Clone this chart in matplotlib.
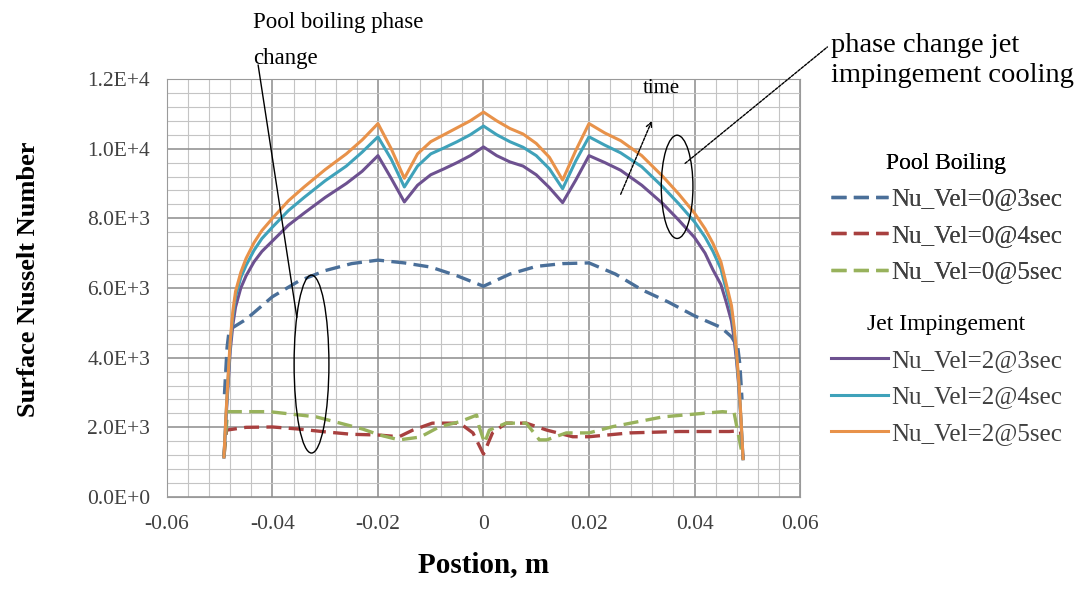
import matplotlib
matplotlib.use("Agg")
import matplotlib.pyplot as plt
from matplotlib.patches import Ellipse
from matplotlib.ticker import FuncFormatter, MultipleLocator

plt.rcParams['font.family'] = ['Liberation Serif', 'DejaVu Serif']

# position along the surface, m (jet impingement runs)
x_jet = [-0.0492, -0.0488, -0.0484, -0.048, -0.0475, -0.047, -0.046, -0.045, -0.0435,
         -0.042, -0.04, -0.037, -0.034, -0.03, -0.026, -0.023, -0.02, -0.0175, -0.015,
         -0.0125, -0.01, -0.0075, -0.005, -0.0025, 0.0, 0.0025, 0.005, 0.0075, 0.01,
         0.0125, 0.015, 0.0175, 0.02, 0.023, 0.026, 0.03, 0.034, 0.037, 0.04, 0.042,
         0.0435, 0.045, 0.046, 0.047, 0.0475, 0.048, 0.0484, 0.0488, 0.0492]

nu_jet_3s = [1150, 2250, 3250, 4200, 4950, 5450, 6000, 6350, 6750,
             7050, 7350, 7800, 8150, 8600, 9000, 9350, 9800, 9150, 8470,
             8950, 9250, 9420, 9600, 9800, 10050, 9800, 9620, 9500, 9250,
             8880, 8450, 9100, 9800, 9600, 9380, 8950, 8420, 7950, 7450, 7000,
             6520, 6100, 5600, 5050, 4550, 3850, 3150, 2200, 1100]

nu_jet_4s = [1150, 2350, 3400, 4400, 5200, 5750, 6300, 6650, 7080,
             7420, 7750, 8220, 8600, 9080, 9500, 9900, 10340, 9700, 8900,
             9500, 9850, 10020, 10200, 10400, 10650, 10400, 10200, 10040, 9800,
             9420, 8850, 9650, 10340, 10100, 9880, 9480, 8900, 8420, 7900, 7460,
             7050, 6550, 5950, 5350, 4780, 4000, 3250, 2250, 1100]

nu_jet_5s = [1150, 2400, 3500, 4500, 5350, 5900, 6450, 6850, 7300,
             7650, 8000, 8500, 8900, 9400, 9850, 10250, 10720, 10000, 9150,
             9850, 10200, 10400, 10600, 10800, 11050, 10800, 10580, 10420, 10150,
             9750, 9100, 9950, 10720, 10450, 10230, 9800, 9200, 8700, 8150, 7700,
             7280, 6750, 6130, 5500, 4900, 4100, 3300, 2300, 1100]

# pool boiling runs
x_pool_3s = [-0.0491, -0.0486, -0.0482, -0.045, -0.04, -0.035, -0.03, -0.025, -0.02,
             -0.015, -0.01, -0.005, 0.0, 0.005, 0.01, 0.015, 0.02, 0.025, 0.03,
             0.035, 0.04, 0.045, 0.047, 0.0482, 0.0486, 0.049]
nu_pool_3s = [2950, 4300, 4800, 5100, 5750, 6200, 6500, 6700, 6800,
              6720, 6600, 6350, 6050, 6400, 6620, 6700, 6720, 6400, 5950,
              5600, 5200, 4870, 4600, 4300, 3800, 2800]

x_pool_4s = [-0.0492, -0.0487, -0.045, -0.04, -0.035, -0.03, -0.025, -0.02, -0.016,
             -0.0134, -0.0097, -0.0045, -0.002, 0.0, 0.0017, 0.0043, 0.0081, 0.012,
             0.0169, 0.02, 0.0277, 0.037, 0.0466, 0.0487, 0.0492]
nu_pool_4s = [1150, 1920, 2000, 2010, 1950, 1870, 1800, 1780, 1730,
              1920, 2120, 2120, 1840, 1230, 1840, 2120, 2120, 1920,
              1730, 1730, 1840, 1880, 1880, 1900, 1100]

x_pool_5s = [-0.0492, -0.0485, -0.0406, -0.0317, -0.0229, -0.0197, -0.016, -0.012,
             -0.0083, -0.0045, -0.0013, -0.0008, 0.0002, 0.0011, 0.0043, 0.0081,
             0.0106, 0.012, 0.0157, 0.02, 0.0245, 0.034, 0.0453, 0.0475, 0.0492]
nu_pool_5s = [1150, 2450, 2450, 2300, 1950, 1780, 1640, 1720,
              2020, 2160, 2350, 2010, 1550, 1920, 2120, 2120,
              1640, 1640, 1840, 1840, 2020, 2300, 2450, 2420, 1100]

pool_labels = ['Nu_Vel=0@3sec', 'Nu_Vel=0@4sec', 'Nu_Vel=0@5sec']
jet_labels = ['Nu_Vel=2@3sec', 'Nu_Vel=2@4sec', 'Nu_Vel=2@5sec']
pool_colors = ['#4a6f99', '#a8403f', '#98b25c']
jet_colors = ['#6d5190', '#3fa2ba', '#e8924a']


def sci_fmt(v, pos):
    if v == 0:
        return '0.0E+0'
    exp = 0
    m = v
    while abs(m) >= 10:
        m /= 10
        exp += 1
    return '%.1fE+%d' % (m, exp)


def x_fmt(v, pos):
    if abs(v) < 1e-9:
        return '0'
    return '%.2f' % v


fig = plt.figure(figsize=(10.82, 5.93), dpi=100)
ax = fig.add_axes([0.1543, 0.1619, 0.5851, 0.7049])

dash = (4.5, 2.2)
pool_x = [x_pool_3s, x_pool_4s, x_pool_5s]
pool_y = [nu_pool_3s, nu_pool_4s, nu_pool_5s]
pool_lines = []
for xs, ys, c, lab in zip(pool_x, pool_y, pool_colors, pool_labels):
    ln, = ax.plot(xs, ys, color=c, lw=2.4, dashes=dash, label=lab, zorder=3)
    pool_lines.append(ln)

jet_lines = []
for ys, c, lab in zip([nu_jet_3s, nu_jet_4s, nu_jet_5s], jet_colors, jet_labels):
    ln, = ax.plot(x_jet, ys, color=c, lw=2.2, label=lab, zorder=4,
                  solid_joinstyle='round')
    jet_lines.append(ln)

ax.set_xlim(-0.06, 0.06)
ax.set_ylim(0, 12000)
ax.xaxis.set_major_locator(MultipleLocator(0.02))
ax.xaxis.set_minor_locator(MultipleLocator(0.004))
ax.yaxis.set_major_locator(MultipleLocator(2000))
ax.yaxis.set_minor_locator(MultipleLocator(400))
ax.xaxis.set_major_formatter(FuncFormatter(x_fmt))
ax.yaxis.set_major_formatter(FuncFormatter(sci_fmt))
ax.grid(which='major', color='#8c8c8c', lw=1.1)
ax.grid(which='minor', color='#c4c4c4', lw=0.8)
ax.set_axisbelow(True)
ax.tick_params(which='both', length=0, labelsize=15.5, labelcolor='#404040')
ax.tick_params(axis='y', pad=12)
ax.tick_params(axis='x', pad=13)
for s in ax.spines.values():
    s.set_color('#9a9a9a')

ax.set_xlabel('Postion, m', fontsize=21, fontweight='bold', labelpad=12)
ax.set_ylabel('Surface Nusselt Number', fontsize=19, fontweight='bold')
ax.yaxis.set_label_coords(-0.2, 0.52)

# annotation: pool boiling region
ax.add_patch(Ellipse((-0.0326, 3816), 0.0066, 5108, fill=False, ec='black', lw=1.0, zorder=6))
ax.annotate('', xy=(-0.0353, 5079), xytext=(-0.0428, 12482),
            arrowprops=dict(arrowstyle='-', color='black', lw=1.0),
            annotation_clip=False, zorder=6)
fig.text(0.234, 0.98, 'Pool boiling phase\nchange', fontsize=16.5, va='top',
         ha='left', linespacing=1.95)

# annotation: jet impingement region
ax.add_patch(Ellipse((0.0367, 8904), 0.006, 2964, fill=False, ec='black', lw=1.0, zorder=6))
ax.annotate('', xy=(0.0656, 12970), xytext=(0.0378, 9526),
            arrowprops=dict(arrowstyle='-', color='black', lw=1.0, ls=(0, (2, 1))),
            annotation_clip=False, zorder=6)
fig.text(0.768, 0.945, 'phase change jet\nimpingement cooling', fontsize=20.5,
         va='top', ha='left', linespacing=1.3)

# time direction arrow
ax.annotate('', xy=(0.0321, 10866), xytext=(0.0258, 8617),
            arrowprops=dict(arrowstyle='->', color='black', lw=1.0, ls=(0, (2, 1))),
            zorder=6)
ax.text(0.0337, 11736, 'time', fontsize=15, ha='center', va='center', zorder=6)

leg_kw = dict(loc='upper left', frameon=False, fontsize=18, title_fontsize=17,
              handlelength=2.3, handletextpad=0.1, labelspacing=0.56,
              borderaxespad=0, borderpad=0)
leg1 = fig.legend(handles=pool_lines, labels=pool_labels, title='Pool Boiling',
                  bbox_to_anchor=(0.768, 0.742), **leg_kw)
leg2 = fig.legend(handles=jet_lines, labels=jet_labels, title='Jet Impingement',
                  bbox_to_anchor=(0.768, 0.47), **leg_kw)
for lg in (leg1, leg2):
    for t in lg.get_texts():
        t.set_color('#404040')
fig.add_artist(leg1)

fig.savefig('out.png', dpi=100)
